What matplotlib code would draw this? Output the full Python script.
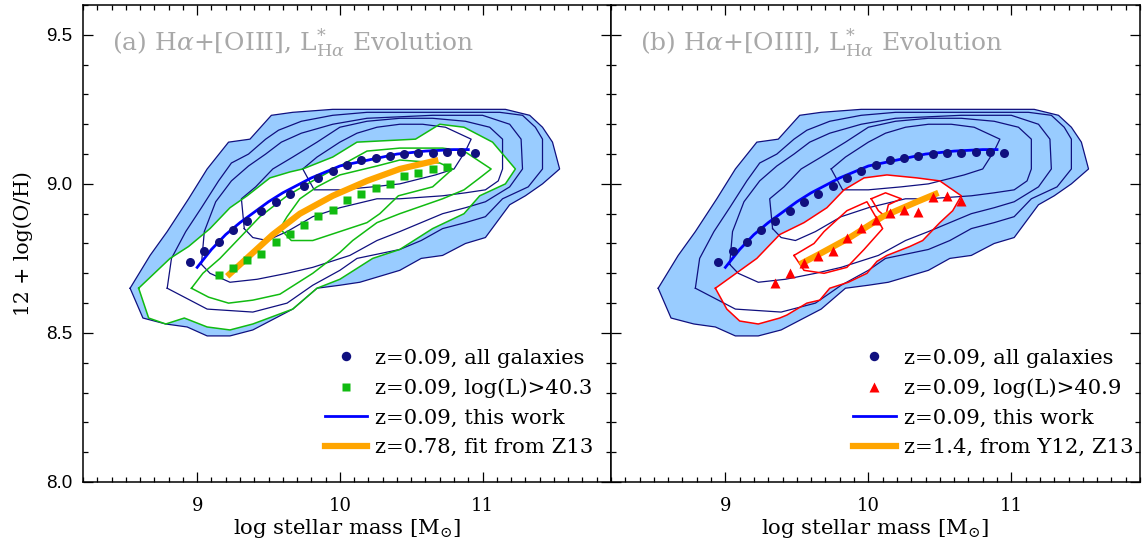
import matplotlib
matplotlib.use("Agg")
import matplotlib.pyplot as plt
from matplotlib.ticker import MultipleLocator, FormatStrFormatter
from matplotlib.lines import Line2D

plt.rcParams['font.family'] = ['DejaVu Serif']
plt.rcParams['mathtext.fontset'] = 'dejavuserif'

# full-sample density contours (same in both panels), outermost first
navy1_m = [8.53, 8.67, 8.79, 8.94, 9.07, 9.22, 9.37, 9.52, 9.67, 9.95, 10.42, 10.88, 11.16, 11.33, 11.42,
           11.49, 11.54, 11.42, 11.30, 11.19, 11.02, 10.88, 10.72, 10.57, 10.42, 10.14, 10.00, 9.84, 9.67,
           9.39, 9.23, 9.07, 8.93, 8.78, 8.62]
navy1_z = [8.65, 8.76, 8.84, 8.95, 9.05, 9.14, 9.15, 9.23, 9.24, 9.25, 9.25, 9.25, 9.25, 9.23, 9.19,
           9.14, 9.05, 9.00, 8.96, 8.93, 8.82, 8.80, 8.76, 8.75, 8.71, 8.67, 8.66, 8.65, 8.58,
           8.51, 8.49, 8.49, 8.52, 8.53, 8.55]
navy2_m = [8.79, 8.82, 8.92, 9.03, 9.15, 9.24, 9.36, 9.48, 9.57, 9.73, 9.95, 10.19, 10.65, 11.12, 11.28, 11.37,
           11.42, 11.42, 11.32, 11.14, 11.02, 10.88, 10.72, 10.57, 10.42, 10.12, 10.00, 9.81, 9.63, 9.39, 9.07]
navy2_z = [8.65, 8.75, 8.84, 8.92, 9.01, 9.07, 9.10, 9.15, 9.18, 9.21, 9.23, 9.24, 9.24, 9.24, 9.23, 9.19,
           9.15, 9.05, 8.99, 8.95, 8.89, 8.87, 8.85, 8.81, 8.78, 8.75, 8.71, 8.66, 8.60, 8.57, 8.58]
navy3_m = [9.03, 9.05, 9.13, 9.24, 9.36, 9.48, 9.59, 9.73, 9.95, 10.19, 10.65, 11.00, 11.19, 11.27,
           11.28, 11.19, 11.02, 10.88, 10.72, 10.57, 10.42, 10.26, 10.07, 9.81, 9.63, 9.42, 9.23, 9.09]
navy3_z = [8.73, 8.84, 8.94, 9.01, 9.06, 9.10, 9.14, 9.17, 9.20, 9.22, 9.23, 9.23, 9.20, 9.15,
           9.05, 8.99, 8.94, 8.92, 8.90, 8.87, 8.84, 8.81, 8.76, 8.72, 8.70, 8.68, 8.67, 8.70]
navy4_m = [9.33, 9.31, 9.41, 9.53, 9.67, 9.84, 10.00, 10.19, 10.42, 10.65, 10.88, 11.05, 11.14,
           11.14, 11.11, 11.02, 10.88, 10.72, 10.42, 10.26, 10.00, 9.81, 9.63, 9.49, 9.39]
navy4_z = [8.85, 8.95, 8.99, 9.05, 9.09, 9.14, 9.19, 9.21, 9.22, 9.22, 9.21, 9.19, 9.15,
           9.05, 9.01, 8.98, 8.97, 8.96, 8.95, 8.95, 8.92, 8.89, 8.84, 8.81, 8.82]
navy5_m = [9.74, 9.84, 10.00, 10.12, 10.26, 10.42, 10.58, 10.74, 10.92, 10.88, 10.80, 10.67, 10.42, 10.23, 10.00, 9.82]
navy5_z = [9.05, 9.09, 9.14, 9.17, 9.19, 9.20, 9.20, 9.19, 9.15, 9.11, 9.05, 9.03, 9.00, 8.99, 8.98, 8.98]

# log(L)>40.3 subsample contours (panel a)
green1_m = [8.59, 8.81, 8.94, 9.09, 9.23, 9.35, 9.51, 9.65, 9.74, 9.95, 10.12, 10.53, 10.70, 10.87, 11.07, 11.23,
            11.16, 10.98, 10.87, 10.65, 10.42, 10.23, 10.00, 9.84, 9.67, 9.39, 9.23, 9.07, 8.91, 8.78, 8.66]
green1_z = [8.65, 8.75, 8.79, 8.85, 8.92, 8.96, 9.02, 9.04, 9.05, 9.09, 9.14, 9.15, 9.20, 9.19, 9.14, 9.05,
            9.00, 8.96, 8.90, 8.85, 8.78, 8.75, 8.68, 8.65, 8.58, 8.53, 8.51, 8.52, 8.55, 8.53, 8.55]
green2_m = [8.96, 9.04, 9.16, 9.30, 9.44, 9.63, 9.81, 10.00, 10.19, 10.42, 10.72, 10.87, 11.06,
            10.98, 10.87, 10.72, 10.42, 10.26, 10.09, 10.00, 9.81, 9.58, 9.39, 9.22, 9.08]
green2_z = [8.65, 8.70, 8.75, 8.82, 8.89, 8.96, 9.01, 9.06, 9.11, 9.12, 9.12, 9.11, 9.05,
            9.02, 8.98, 8.95, 8.90, 8.87, 8.81, 8.77, 8.70, 8.63, 8.61, 8.60, 8.62]
green3_m = [9.58, 9.66, 9.81, 10.00, 10.19, 10.28, 10.41, 10.65, 10.79, 10.70, 10.42, 10.26, 10.00, 9.84, 9.72, 9.63]
green3_z = [8.85, 8.81, 8.81, 8.84, 8.87, 8.90, 8.96, 8.99, 9.05, 9.07, 9.08, 9.06, 9.03, 8.99, 8.95, 8.89]

# log(L)>40.9 subsample contours (panel b)
red1_m = [8.93, 9.22, 9.38, 9.55, 9.71, 9.83, 9.97, 10.13, 10.34, 10.50, 10.59, 10.65, 10.59, 10.50,
          10.38, 10.29, 10.13, 10.06, 9.99, 9.86, 9.73, 9.66, 9.57, 9.43, 9.38, 9.23, 9.10, 9.01]
red1_z = [8.65, 8.75, 8.83, 8.87, 8.92, 8.98, 9.02, 9.03, 9.02, 9.01, 8.98, 8.96, 8.91, 8.87,
          8.81, 8.79, 8.76, 8.74, 8.70, 8.67, 8.65, 8.61, 8.60, 8.56, 8.55, 8.53, 8.54, 8.58]
red2_m = [9.48, 9.55, 9.69, 9.85, 9.97, 10.10, 9.99, 9.85, 9.69, 9.62]
red2_z = [8.76, 8.71, 8.70, 8.72, 8.78, 8.85, 8.94, 8.91, 8.84, 8.80]
red3_m = [10.02, 10.12, 10.23, 10.14, 10.12, 10.07]
red3_z = [8.95, 8.97, 8.95, 8.93, 8.89, 8.91]

# binned medians
all_m = [8.95, 9.05, 9.15, 9.25, 9.35, 9.45, 9.55, 9.65, 9.75, 9.85, 9.95,
         10.05, 10.15, 10.25, 10.35, 10.45, 10.55, 10.65, 10.75, 10.85, 10.95]
all_z = [8.737, 8.774, 8.805, 8.844, 8.874, 8.908, 8.938, 8.966, 8.993, 9.021, 9.044,
         9.064, 9.080, 9.088, 9.095, 9.101, 9.105, 9.105, 9.108, 9.107, 9.105]
hi_m = [9.15, 9.25, 9.35, 9.45, 9.55, 9.65, 9.75, 9.85, 9.95, 10.05, 10.15, 10.25, 10.35, 10.45, 10.55, 10.65, 10.75]
hi_z = [8.696, 8.718, 8.743, 8.766, 8.805, 8.833, 8.862, 8.892, 8.912, 8.946, 8.966, 8.986, 8.999,
        9.026, 9.036, 9.049, 9.056]
top_m = [9.35, 9.45, 9.55, 9.65, 9.75, 9.85, 9.95, 10.05, 10.15, 10.25, 10.35, 10.45, 10.55, 10.65]
top_z = [8.668, 8.701, 8.735, 8.757, 8.774, 8.818, 8.852, 8.880, 8.902, 8.913, 8.904, 8.955, 8.958, 8.941]

# fits
fit_m = [9.00, 9.10, 9.20, 9.30, 9.40, 9.50, 9.60, 9.70, 9.80, 9.90, 10.00, 10.20, 10.40, 10.60, 10.80, 10.90]
fit_z = [8.72, 8.78, 8.83, 8.87, 8.905, 8.94, 8.97, 8.995, 9.02, 9.04, 9.06, 9.08, 9.10, 9.11, 9.115, 9.115]
z13_m = [9.21, 9.37, 9.53, 9.72, 9.95, 10.19, 10.42, 10.69]
z13_z = [8.69, 8.76, 8.83, 8.90, 8.96, 9.01, 9.05, 9.08]
y12_m = [9.52, 9.64, 9.87, 10.10, 10.34, 10.49]
y12_z = [8.73, 8.76, 8.82, 8.89, 8.94, 8.97]

NAVY = '#10107f'
LBLUE = '#99ccff'
GREEN = '#11bb11'
GREY = '#a8a8a8'

navy_m = [navy1_m, navy2_m, navy3_m, navy4_m, navy5_m]
navy_z = [navy1_z, navy2_z, navy3_z, navy4_z, navy5_z]


def closed(a):
    return list(a) + [a[0]]


def draw_panel(ax, sub_m, sub_z, sub_color, pts_m, pts_z, pts_marker, pts_ms, hi_label,
               fit2_m, fit2_z, fit2_label, title):
    ax.fill(navy1_m, navy1_z, color=LBLUE, lw=0, zorder=1)
    ax.fill(sub_m[0], sub_z[0], color='white', lw=0, zorder=2)
    for m, z in zip(navy_m, navy_z):
        ax.plot(closed(m), closed(z), color=NAVY, lw=0.9, zorder=3)
    for m, z in zip(sub_m, sub_z):
        ax.plot(closed(m), closed(z), color=sub_color, lw=1.1, zorder=4)

    ax.plot(all_m, all_z, 'o', color=NAVY, ms=6.5, mec='none', zorder=6)
    ax.plot(fit_m, fit_z, '-', color='#0000ff', lw=2.0, zorder=5)
    ax.plot(fit2_m, fit2_z, '-', color='#ffa500', lw=4.5, solid_capstyle='butt', zorder=5)
    ax.plot(pts_m, pts_z, pts_marker, color=sub_color, ms=pts_ms, mec='none', zorder=7)

    handles = [
        Line2D([], [], ls='none', marker='o', color=NAVY, ms=6.8, mec='none'),
        Line2D([], [], ls='none', marker=pts_marker, color=sub_color, ms=pts_ms, mec='none'),
        Line2D([], [], color='#0000ff', lw=2.0),
        Line2D([], [], color='#ffa500', lw=4.5),
    ]
    labels = ['z=0.09, all galaxies', hi_label, 'z=0.09, this work', fit2_label]
    ax.legend(handles, labels, loc='lower left', bbox_to_anchor=(0.458, 0.052), frameon=False,
              fontsize=15.2, handlelength=2.0, handletextpad=0.38, labelspacing=0.5, borderpad=0,
              borderaxespad=0)

    ax.text(0.055, 0.92, title, transform=ax.transAxes, color=GREY, fontsize=18,
            ha='left', va='center')

    ax.set_xlim(8.2, 11.9)
    ax.set_ylim(8.0, 9.6)
    ax.xaxis.set_major_locator(MultipleLocator(1))
    ax.xaxis.set_minor_locator(MultipleLocator(0.1))
    ax.yaxis.set_major_locator(MultipleLocator(0.5))
    ax.yaxis.set_minor_locator(MultipleLocator(0.1))
    ax.yaxis.set_major_formatter(FormatStrFormatter('%.1f'))
    ax.tick_params(which='both', direction='in', top=True, right=True, width=0.9)
    ax.tick_params(which='major', length=7.5)
    ax.tick_params(which='minor', length=3.5)
    ax.tick_params(axis='x', labelsize=13, pad=11)
    for s in ax.spines.values():
        s.set_linewidth(1.1)
    ax.set_xlabel(r'log stellar mass [M$_{\odot}$]', fontsize=15.3, labelpad=1)


fig = plt.figure(figsize=(11.43, 5.44), dpi=100)
ax1 = fig.add_axes([83 / 1143, 62 / 544, 528 / 1143, 477 / 544])
ax2 = fig.add_axes([611 / 1143, 62 / 544, 529 / 1143, 477 / 544])

draw_panel(ax1, [green1_m, green2_m, green3_m], [green1_z, green2_z, green3_z], GREEN,
           hi_m, hi_z, 's', 6.3, 'z=0.09, log(L)>40.3', z13_m, z13_z, 'z=0.78, fit from Z13',
           r'(a) H$\alpha$+[OIII], L$^{*}_{\mathrm{H}\alpha}$ Evolution')
draw_panel(ax2, [red1_m, red2_m, red3_m], [red1_z, red2_z, red3_z], '#ff0000',
           top_m, top_z, '^', 7.5, 'z=0.09, log(L)>40.9', y12_m, y12_z, 'z=1.4, from Y12, Z13',
           r'(b) H$\alpha$+[OIII], L$^{*}_{\mathrm{H}\alpha}$ Evolution')

ax1.set_ylabel('12 + log(O/H)', fontsize=14.7, labelpad=9)
for lab in ax1.get_yticklabels():
    lab.set_fontfamily('Liberation Sans')
    lab.set_fontsize(13.5)
ax1.tick_params(axis='y', pad=8)
ax2.tick_params(axis='y', labelleft=False)

fig.savefig('out.png', dpi=100)
